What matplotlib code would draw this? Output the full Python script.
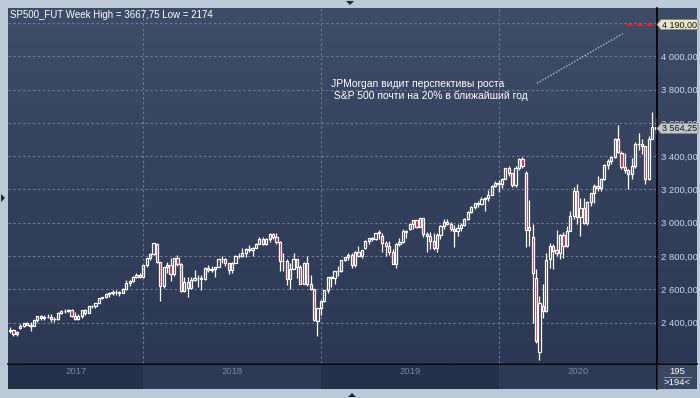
import numpy as np
import pandas as pd
import matplotlib
matplotlib.use('Agg')
import matplotlib.pyplot as plt
from matplotlib.patches import Polygon, Rectangle
from matplotlib.lines import Line2D
from matplotlib.colors import LinearSegmentedColormap

plt.rcParams['font.family'] = ['Liberation Sans', 'DejaVu Sans']

# ---------------- data (weekly ES / S&P 500 futures) ----------------
first_week = '2017-04-03'
opens = [2348, 2356, 2330, 2365, 2381, 2396, 2388, 2380, 2413, 2437,
         2430, 2432, 2436, 2420, 2423, 2457, 2470, 2470, 2474, 2438,
         2424, 2442, 2474, 2458, 2497, 2500, 2517, 2546, 2551, 2573,
         2579, 2586, 2581, 2578, 2602, 2640, 2650, 2675, 2683, 2674,
         2743, 2787, 2811, 2874, 2762, 2622, 2732, 2747, 2692, 2787,
         2752, 2589, 2641, 2605, 2656, 2670, 2669, 2663, 2728, 2713,
         2721, 2735, 2779, 2780, 2755, 2718, 2760, 2801, 2802, 2819,
         2840, 2833, 2850, 2875, 2902, 2872, 2905, 2930, 2914, 2886,
         2767, 2768, 2659, 2723, 2781, 2736, 2633, 2760, 2633, 2600,
         2410, 2486, 2532, 2596, 2671, 2665, 2707, 2708, 2775, 2793,
         2804, 2743, 2823, 2801, 2845, 2893, 2907, 2905, 2940, 2920,
         2881, 2860, 2826, 2752, 2873, 2887, 2950, 2960, 2990, 3014,
         2977, 3026, 2932, 2919, 2889, 2847, 2926, 2979, 3007, 2992,
         2962, 2952, 2970, 2986, 3023, 3067, 3093, 3120, 3110, 3141,
         3146, 3169, 3221, 3240, 3235, 3265, 3328, 3296, 3226, 3328,
         3380, 3300, 2954, 2916, 2670, 2225, 2500, 2470, 2780, 2862,
         2836, 2816, 2924, 2860, 2950, 3040, 3190, 3033, 3088, 2999,
         3125, 3178, 3220, 3210, 3263, 3348, 3370, 3394, 3505, 3420,
         3337, 3315, 3290, 3340, 3470, 3475, 3458, 3265, 3505, 3575]
highs = [2372, 2360, 2350, 2390, 2400, 2403, 2404, 2418, 2440, 2446,
         2444, 2450, 2452, 2434, 2462, 2475, 2484, 2480, 2480, 2465,
         2450, 2477, 2480, 2498, 2506, 2520, 2550, 2556, 2575, 2585,
         2595, 2596, 2590, 2605, 2658, 2655, 2680, 2696, 2695, 2745,
         2790, 2815, 2879, 2880, 2765, 2736, 2762, 2790, 2788, 2803,
         2760, 2675, 2672, 2675, 2717, 2683, 2683, 2733, 2743, 2742,
         2736, 2781, 2802, 2790, 2760, 2764, 2805, 2816, 2848, 2845,
         2865, 2855, 2877, 2917, 2916, 2908, 2941, 2940, 2940, 2890,
         2817, 2780, 2756, 2815, 2782, 2747, 2765, 2800, 2686, 2601,
         2489, 2538, 2598, 2675, 2681, 2708, 2738, 2775, 2795, 2815,
         2817, 2830, 2860, 2836, 2894, 2910, 2916, 2940, 2955, 2939,
         2892, 2892, 2840, 2880, 2910, 2964, 2955, 2995, 3017, 3018,
         3027, 3029, 2945, 2944, 2940, 2940, 2985, 3022, 3022, 3002,
         2984, 2993, 3000, 3027, 3068, 3098, 3120, 3128, 3155, 3155,
         3198, 3226, 3248, 3258, 3268, 3330, 3338, 3300, 3340, 3387,
         3397, 3310, 3136, 2990, 2720, 2560, 2630, 2820, 2880, 2870,
         2955, 2932, 2944, 2980, 3068, 3215, 3230, 3150, 3150, 3130,
         3180, 3230, 3280, 3270, 3354, 3385, 3400, 3510, 3587, 3430,
         3420, 3320, 3390, 3485, 3540, 3500, 3460, 3520, 3667.75, 3628]
lows = [2340, 2322, 2320, 2360, 2375, 2385, 2349, 2378, 2403, 2415,
        2414, 2428, 2405, 2405, 2415, 2452, 2458, 2462, 2432, 2415,
        2418, 2430, 2445, 2458, 2490, 2488, 2515, 2540, 2545, 2555,
        2567, 2565, 2560, 2576, 2598, 2620, 2645, 2670, 2670, 2674,
        2735, 2775, 2806, 2755, 2529, 2610, 2700, 2647, 2680, 2740,
        2585, 2586, 2553, 2604, 2650, 2612, 2594, 2655, 2701, 2705,
        2676, 2735, 2755, 2742, 2692, 2698, 2760, 2790, 2795, 2795,
        2825, 2802, 2846, 2870, 2864, 2867, 2886, 2904, 2874, 2710,
        2710, 2628, 2603, 2722, 2670, 2632, 2630, 2621, 2593, 2409,
        2317, 2444, 2525, 2580, 2612, 2632, 2681, 2705, 2768, 2776,
        2729, 2735, 2799, 2785, 2840, 2872, 2893, 2896, 2900, 2825,
        2801, 2805, 2750, 2729, 2860, 2880, 2910, 2958, 2965, 2970,
        2975, 2914, 2822, 2840, 2835, 2822, 2900, 2965, 2986, 2948,
        2856, 2919, 2952, 2981, 3015, 3060, 3082, 3092, 3105, 3070,
        3130, 3165, 3215, 3182, 3210, 3260, 3280, 3215, 3215, 3317,
        3328, 2855, 2860, 2400, 2280, 2174, 2430, 2465, 2730, 2720,
        2797, 2780, 2790, 2855, 2948, 3025, 2990, 2920, 2995, 2985,
        3100, 3120, 3190, 3190, 3255, 3320, 3355, 3390, 3420, 3325,
        3300, 3200, 3260, 3330, 3435, 3410, 3230, 3255, 3500, 3532]
closes = [2356, 2330, 2345, 2381, 2396, 2388, 2379, 2413, 2437, 2430,
          2432, 2436, 2420, 2423, 2457, 2470, 2471, 2474, 2438, 2424,
          2442, 2474, 2458, 2497, 2500, 2517, 2546, 2551, 2573, 2579,
          2586, 2581, 2578, 2602, 2640, 2650, 2675, 2683, 2674, 2743,
          2787, 2811, 2876, 2762, 2622, 2732, 2747, 2692, 2787, 2752,
          2589, 2641, 2605, 2656, 2670, 2669, 2663, 2728, 2713, 2721,
          2735, 2779, 2780, 2755, 2718, 2760, 2801, 2802, 2819, 2840,
          2833, 2850, 2875, 2902, 2872, 2905, 2930, 2914, 2886, 2767,
          2768, 2659, 2723, 2781, 2736, 2633, 2760, 2633, 2600, 2417,
          2486, 2532, 2596, 2671, 2665, 2707, 2708, 2775, 2793, 2804,
          2743, 2823, 2801, 2834, 2893, 2907, 2905, 2940, 2946, 2881,
          2860, 2826, 2752, 2873, 2887, 2950, 2942, 2990, 3014, 2977,
          3026, 2932, 2919, 2889, 2847, 2926, 2979, 3007, 2992, 2962,
          2952, 2970, 2986, 3023, 3067, 3093, 3120, 3110, 3141, 3146,
          3169, 3221, 3240, 3235, 3265, 3328, 3296, 3226, 3328, 3380,
          3338, 2954, 2972, 2700, 2290, 2520, 2470, 2777, 2862, 2830,
          2816, 2924, 2860, 2950, 3040, 3190, 3033, 3088, 2999, 3125,
          3178, 3220, 3210, 3263, 3348, 3370, 3394, 3505, 3425, 3337,
          3315, 3290, 3340, 3470, 3475, 3458, 3265, 3505, 3575, 3564.25]

price_levels = [2400, 2600, 2800, 3000, 3200, 3400, 3600, 3800, 4000, 4200]
label_levels = [2400, 2600, 2800, 3000, 3200, 3400, 3600, 3800, 4000]
target_price = 4190.00
last_price = 3564.25
title_text = "SP500_FUT Week High = 3667,75 Low = 2174"
note_lines = ["JPMorgan видит перспективы роста",
              " S&P 500 почти на 20% в ближайший год"]
bars_text = "195"
bars_sub = ">194<"

# ---------------- layout helpers ----------------
W, H = 700, 398
fig = plt.figure(figsize=(W / 100, H / 100), dpi=100)
fig.patch.set_facecolor('#bdc9d7')


def box(x0, y0, x1, y1):
    return [x0 / W, 1 - y1 / H, (x1 - x0) / W, (y1 - y0) / H]


def fp(x, y):
    return (x / W, 1 - y / H)


def fmt(v):
    return f"{v:,.2f}".replace(',', ' ').replace('.', ',')


o = np.array(opens, float)
h = np.array(highs, float)
l = np.array(lows, float)
c = np.array(closes, float)
n = len(o)
idx = np.arange(n)
weeks = pd.date_range(first_week, periods=n, freq='7D')

# year boundaries: bar containing Jan 1
years = sorted(set(weeks.year))
bounds = []
for y in years[1:]:
    jan1 = pd.Timestamp(f'{y}-01-01')
    k = int(np.searchsorted(weeks.values, jan1.to_datetime64(), side='right') - 1)
    bounds.append(k)

XMIN, XMAX = -0.6, n - 0.6
YMIN, YMAX = 2157, 4290

# gradient background (plot + right panel)
bg = fig.add_axes(box(8, 8, 697, 363))
grad = LinearSegmentedColormap.from_list('g', ['#2b3753', '#3e4c68'])
bg.imshow(np.linspace(0, 1, 256).reshape(-1, 1)[::-1], aspect='auto', cmap=grad,
          extent=[0, 1, 0, 1])
bg.set_axis_off()

ax = fig.add_axes(box(8, 8, 657, 363))
ax.set_facecolor('none')
ax.set_xlim(XMIN, XMAX)
ax.set_ylim(YMIN, YMAX)

grid_kw = dict(color='#6b7a98', lw=0.8, dashes=(2.2, 2.2), zorder=1)
for p in price_levels:
    ax.axhline(p, **grid_kw)
for b in bounds:
    ax.axvline(b, **grid_kw)

# candles
up = c >= o
body_lo = np.minimum(o, c)
body_hi = np.maximum(o, c)
ax.vlines(idx, l, body_lo, color='white', lw=0.9, zorder=2)
ax.vlines(idx, body_hi, h, color='white', lw=0.9, zorder=2)
height = np.maximum(body_hi - body_lo, 1.0)
ax.bar(idx[up], height[up], bottom=body_lo[up], width=0.64,
       facecolor='none', edgecolor='white', lw=0.9, zorder=3)
ax.bar(idx[~up], height[~up], bottom=body_lo[~up], width=0.64,
       facecolor='#e5102f', edgecolor='white', lw=0.9, zorder=3)

# right axis labels
ax.yaxis.tick_right()
ax.set_yticks(label_levels)
ax.set_yticklabels([fmt(v) for v in label_levels])
ax.tick_params(axis='y', length=0, pad=3, labelsize=6.8, labelcolor='#c8d8f2')
ax.set_xticks([])
for s in ax.spines.values():
    s.set_visible(False)

# target line & annotation
tx0 = (627 - 10) / 3.416
ax.plot([tx0, XMAX], [target_price, target_price], color='#ff1a1a', lw=1.4,
        dashes=(3, 2), zorder=4)
ax.plot([154.3, 179.4], [3838, 4136], color='#b8c2d4', lw=1.0,
        dashes=(1, 1.2), zorder=4)
fig.text(*fp(331, 84), note_lines[0], color='white', fontsize=7.5, va='center', ha='left')
fig.text(*fp(331, 96), note_lines[1], color='white', fontsize=7.5, va='center', ha='left')

# title
fig.text(*fp(10, 15), title_text, color='white', fontsize=7, va='center', ha='left')


# price tags
def tag(price, face, txt):
    yc = 321.7 - (price - 2400) / 6.024
    pts = [fp(657, yc), fp(661, yc - 5), fp(698, yc - 5), fp(698, yc + 5), fp(661, yc + 5)]
    fig.patches.append(Polygon(pts, closed=True, transform=fig.transFigure,
                               facecolor=face, edgecolor='#8a8a80', lw=0.6, zorder=10))
    fig.text(*fp(661.5, yc + 0.3), txt, color='#151515', fontsize=6.5,
             va='center', ha='left', zorder=11)


tag(target_price, '#e9e5c7', fmt(target_price))
tag(last_price, '#c3c8d0', fmt(last_price))

# separators
fig.add_artist(Line2D([657 / W, 657 / W], [1 - 8 / H, 1 - 389 / H], color='black', lw=1.2))
fig.add_artist(Line2D([8 / W, 697 / W], [1 - 363.5 / H, 1 - 363.5 / H], color='black', lw=1.2))

# time axis
tax = fig.add_axes(box(8, 364, 657, 389))
tax.set_xlim(XMIN, XMAX)
tax.set_ylim(0, 1)
edges = [XMIN] + bounds + [XMAX]
band_cols = ['#25314a', '#2d3a55']
for k, y in enumerate(years):
    tax.add_patch(Rectangle((edges[k], 0), edges[k + 1] - edges[k], 1,
                            facecolor=band_cols[k % 2], edgecolor='none'))
    tax.text((edges[k] + edges[k + 1]) / 2, 0.7, str(y), color='#7a879d',
             fontsize=6.8, ha='center', va='center')
tax.set_axis_off()

bax = fig.add_axes(box(658, 364, 697, 389))
bax.set_facecolor('#3a4762')
bax.set_xticks([]); bax.set_yticks([])
for s in bax.spines.values():
    s.set_visible(False)
bax.text(0.5, 0.72, bars_text, color='white', fontsize=6.8, ha='center', va='center',
         transform=bax.transAxes)
bax.plot([0.15, 0.85], [0.5, 0.5], color='#9aa5b8', lw=0.6, transform=bax.transAxes)
bax.text(0.5, 0.27, bars_sub, color='white', fontsize=6.8, ha='center', va='center',
         transform=bax.transAxes)

# small scroll triangles on the frame
for pts in ([fp(346, 1), fp(354, 1), fp(350, 5)],
            [fp(348, 397), fp(356, 397), fp(352, 393)],
            [fp(1, 194), fp(1, 202), fp(5, 198)]):
    fig.patches.append(Polygon(pts, closed=True, transform=fig.transFigure,
                               facecolor='#1c2638', edgecolor='none'))

fig.savefig('out.png', dpi=100, facecolor=fig.get_facecolor())
